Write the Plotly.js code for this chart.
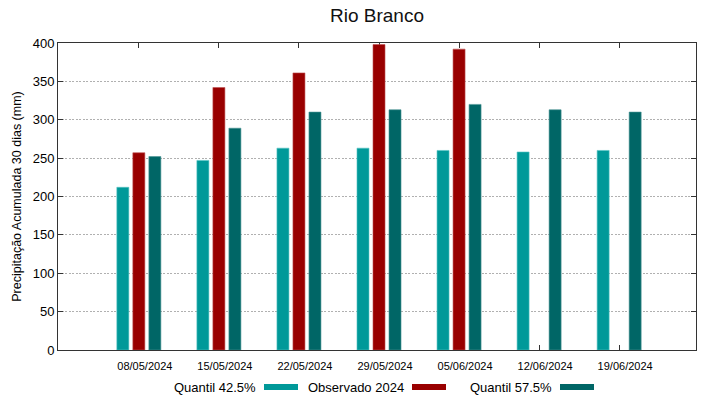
<!DOCTYPE html>
<html>
<head>
<meta charset="utf-8">
<script src="https://cdn.plot.ly/plotly-3.0.1.min.js"></script>
<style>html,body{margin:0;padding:0;background:#fff;}#chart{width:719px;height:399px;}</style>
</head>
<body>
<div id="chart"></div>
<script>
const dates = ["08/05/2024","15/05/2024","22/05/2024","29/05/2024","05/06/2024","12/06/2024","19/06/2024"];
const q425 = [212, 247, 263, 263, 260, 258, 260];
const observado = [257, 342, 361, 398, 392, null, null];
const q575 = [252, 289, 310, 313, 320, 313, 310];
const seriesNames = ["Quantil 42.5%", "Observado 2024", "Quantil 57.5%"];
const colors = ["#009999", "#990000", "#006666"];
const edge = ["#55c4c4", "#c05050", "#4a9494"];

const series = [q425, observado, q575];
const traces = series.map((vals, i) => ({
  type: "bar",
  x: dates,
  y: vals,
  name: seriesNames[i],
  marker: {color: colors[i], line: {color: edge[i], width: 0.6}},
  showlegend: false,
  hoverinfo: "x+y"
}));

// gnuplot-style legend: label text followed by colour sample
const legendText = [
  {x: 258, text: seriesNames[0]},
  {x: 406, text: seriesNames[1]},
  {x: 554, text: seriesNames[2]}
];
const annotations = [];
const shapes = [];
legendText.forEach((l, i) => {
  annotations.push({
    xref: "paper", yref: "paper",
    x: (l.x - 58) / 638, y: (350 - 387) / 307,
    xanchor: "right", yanchor: "middle",
    text: l.text, showarrow: false,
    font: {family: "Liberation Sans, Arial, sans-serif", size: 13, color: "#000"}
  });
  shapes.push({
    type: "rect", xref: "paper", yref: "paper",
    x0: (l.x + 6 - 58) / 638, x1: (l.x + 40 - 58) / 638,
    y0: (350 - 384) / 307, y1: (350 - 390) / 307,
    fillcolor: colors[i], line: {width: 0}
  });
});

const layout = {
  width: 719, height: 399,
  margin: {l: 58, r: 23, t: 43, b: 49},
  paper_bgcolor: "#fff", plot_bgcolor: "#fff",
  font: {family: "Liberation Sans, Arial, sans-serif", color: "#000"},
  title: {text: "Rio Branco", xref: "paper", x: 0.5, xanchor: "center",
          yref: "container", y: 1 - 15 / 399, yanchor: "middle",
          font: {size: 19, color: "#111"}},
  barmode: "group",
  bargap: 0.4,
  bargroupgap: 0.25,
  xaxis: {
    type: "category",
    range: [-1.01, 6.96],
    showline: true, linecolor: "#333", linewidth: 1, mirror: "ticks",
    ticks: "inside", ticklen: 5, tickcolor: "#333",
    showgrid: false, zeroline: false,
    tickfont: {size: 11},
    ticklabelshift: 6,
    ticklabelstandoff: 6,
    layer: "below traces"
  },
  yaxis: {
    range: [0, 400],
    tickvals: [0,50,100,150,200,250,300,350,400],
    showline: true, linecolor: "#333", linewidth: 1, mirror: "ticks",
    ticks: "inside", ticklen: 5, tickcolor: "#333",
    showgrid: true, gridcolor: "#b0b0b0", griddash: "2px,1.5px", gridwidth: 1,
    zeroline: false,
    tickfont: {size: 13},
    title: {text: "Precipitação Acumulada 30 dias (mm)", font: {size: 12.5}, standoff: 8}
  },
  annotations: annotations,
  shapes: shapes
};

Plotly.newPlot("chart", traces, layout, {displayModeBar: false, staticPlot: true});
</script>
</body>
</html>
